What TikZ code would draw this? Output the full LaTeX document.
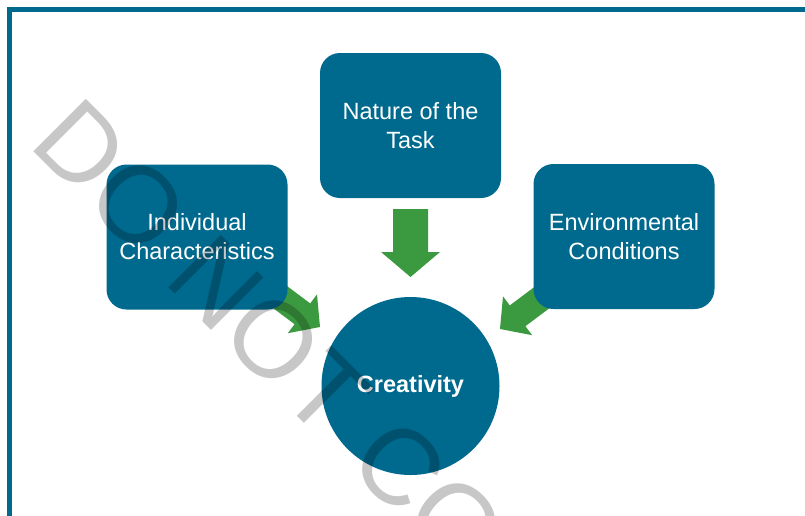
\documentclass[tikz,border=0pt]{standalone}
\usepackage{fontspec}
\setmainfont{Liberation Sans}
\definecolor{tealblue}{RGB}{0,105,142}
\definecolor{arrowgreen}{RGB}{59,154,64}
\begin{document}
\begin{tikzpicture}[x=1pt,y=-1pt,
  boxstyle/.style={rectangle, rounded corners=20pt, fill=tealblue, text=white,
    minimum width=181pt, minimum height=145pt, inner sep=0pt, align=center,
    font=\fontsize{23.5}{29}\selectfont},
  circstyle/.style={circle, fill=tealblue, text=white, minimum size=178pt, inner sep=0pt,
    font=\bfseries\fontsize{23.5}{29}\selectfont},
  greenarrow/.style={fill=arrowgreen},
  framestyle/.style={draw=tealblue, line width=5pt},
  watermark/.style={rotate=-45, anchor=base west, inner sep=0pt, text=black,
    text opacity=0.22, font=\fontsize{108}{108}\selectfont}]
\useasboundingbox (0,0) rectangle (805,515);
\clip (0,0) rectangle (805,515);
\fill[white] (0,0) rectangle (805,515);
% frame
\draw[framestyle] (9.5,600) -- (9.5,9.5) -- (900,9.5);
% arrows (behind boxes)
\fill[greenarrow] (393,209) -- (428,209) -- (428,252) -- (440,252) -- (410.5,277) -- (381,252) -- (393,252) -- cycle;
\fill[greenarrow] (254.2,261.4) -- (310.2,303.4) -- (317.0,294.4) -- (320,327) -- (287.8,333.2) -- (294.6,324.2) -- (238.6,282.2) -- cycle;
\fill[greenarrow] (565.8,263.4) -- (509.8,305.4) -- (503.0,296.4) -- (500,329) -- (532.2,335.2) -- (525.4,326.2) -- (581.4,284.2) -- cycle;
% boxes
\node[boxstyle] (ind) at (197,237) {Individual\\Characteristics};
\node[boxstyle] (task) at (410.5,125.5) {Nature of the\\Task};
\node[boxstyle] (env) at (624,236.5) {Environmental\\Conditions};
\node[circstyle] (crea) at (410.5,386) {Creativity};
% watermark
\node[watermark] (wm) at (27,145.8) {DO NOT COPY};
\end{tikzpicture}
\end{document}
